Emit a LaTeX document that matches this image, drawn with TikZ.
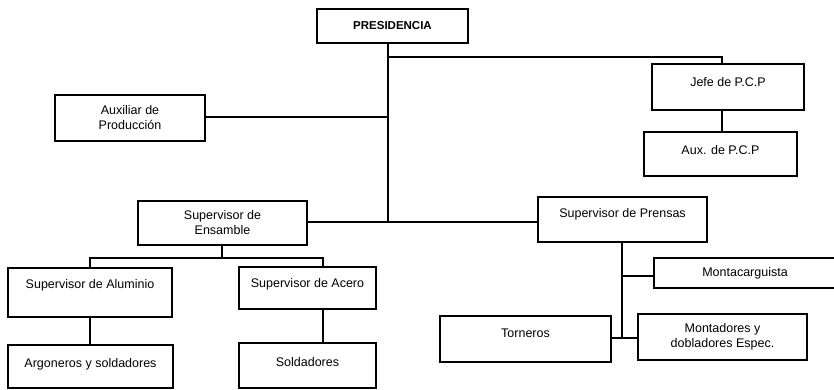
\documentclass[tikz,border=0pt]{standalone}
\usepackage{fontspec}
\setmainfont{Liberation Sans}
\begin{document}
\begin{tikzpicture}[x=1pt,y=-1pt,
  box/.style={draw, line width=1.4pt, inner sep=0pt, align=center,
    font=\fontsize{12.5}{15}\selectfont},
  link/.style={line width=1.4pt}]
\useasboundingbox (0,0) rectangle (834,390);

% top level
\node[box, minimum width=151pt, minimum height=34pt, font=\fontsize{11.5}{15}\selectfont\bfseries] (pres) at (392.5,26) {PRESIDENCIA};

% staff units
\node[box, minimum width=152pt, minimum height=46pt, text height=9pt, text depth=9pt] (jefe) at (728,87) {Jefe de P.C.P};
\node[box, minimum width=153pt, minimum height=44pt, text height=9pt, text depth=9pt] (auxpcp) at (720.5,154) {Aux. de P.C.P};
\node[box, minimum width=150pt, minimum height=46pt] (auxprod) at (130,118) {Auxiliar de\\Producción};

% supervisors
\node[box, minimum width=169pt, minimum height=44pt] (ens) at (222.5,223) {Supervisor de\\Ensamble};
\node[box, minimum width=169pt, minimum height=45pt, text height=9pt, text depth=14pt] (pren) at (622.5,219.5) {Supervisor de Prensas};

% assembly branch
\node[box, minimum width=164pt, minimum height=49pt, text height=9pt, text depth=18pt] (alum) at (90,292.5) {Supervisor de Aluminio};
\node[box, minimum width=137pt, minimum height=42pt, text height=9pt, text depth=11pt] (acero) at (307.5,288) {Supervisor de Acero};
\node[box, minimum width=165pt, minimum height=43pt, text height=9pt, text depth=8pt] (argo) at (90.5,366.5) {Argoneros y soldadores};
\node[box, minimum width=137pt, minimum height=45pt, text height=9pt, text depth=8pt] (sold) at (307.5,365.5) {Soldadores};

% press branch
\node[box, minimum width=182pt, minimum height=30pt] (monta) at (745,273) {Montacarguista};
\node[box, minimum width=171pt, minimum height=46pt, text height=9pt, text depth=13pt] (torn) at (525.5,339) {Torneros};
\node[box, minimum width=169pt, minimum height=46pt] (mont) at (722.5,337) {Montadores y\\dobladores Espec.};

% junction points
\coordinate (t1) at (388,57);
\coordinate (t2) at (388,117);
\coordinate (t3) at (388,222);
\coordinate (j) at (722,57);
\coordinate (e) at (222,258);
\coordinate (ac) at (323,258);
\coordinate (pm) at (622,276);
\coordinate (p) at (622,338);

% connectors
\draw[link] (pres.south -| t1) -- (t3);
\draw[link] (t1) -- (j) -- (j |- jefe.north);
\draw[link] (jefe.south -| j) -- (auxpcp.north -| j);
\draw[link] (auxprod.east |- t2) -- (t2);
\draw[link] (ens.east |- t3) -- (pren.west |- t3);
\draw[link] (ens.south -| e) -- (e);
\draw[link] (alum.north) |- (ac) -- (ac |- acero.north);
\draw[link] (ac |- acero.south) -- (ac |- sold.north);
\draw[link] (alum.south) -- (argo.north -| alum.south);
\draw[link] (pren.south -| p) -- (p);
\draw[link] (pm) -- (pm -| monta.west);
\draw[link] (torn.east |- p) -- (mont.west |- p);
\end{tikzpicture}
\end{document}
